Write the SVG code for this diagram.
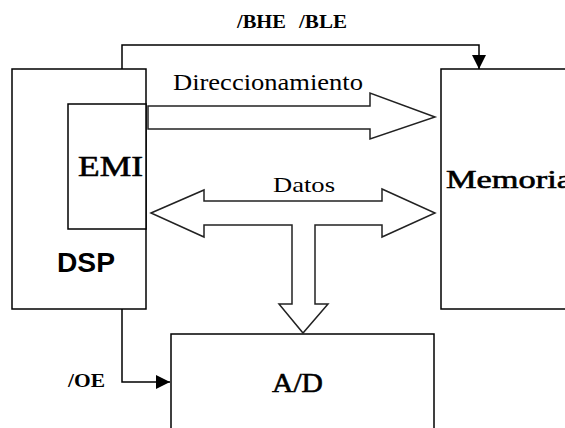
<svg xmlns="http://www.w3.org/2000/svg" width="565" height="428" viewBox="0 0 565 428">
  <style>
    .box { fill: #fff; stroke: #000; stroke-width: 1.5; }
    .bus { fill: #fff; stroke: #222; stroke-width: 1.5; stroke-linejoin: miter; }
    .wire { fill: none; stroke: #000; stroke-width: 1.5; }
    .serif { font-family: "Liberation Serif", "Times New Roman", serif; fill: #000; }
    .heavy { stroke: #000; stroke-width: 0.6; }
    .sans { font-family: "Liberation Sans", Arial, sans-serif; fill: #000; }
  </style>
  <defs>
    <marker id="tip" viewBox="0 0 14 14" refX="14" refY="7" markerWidth="14" markerHeight="14" markerUnits="userSpaceOnUse" orient="auto">
      <path d="M0,0 L14,7 L0,14 Z" fill="#000"/>
    </marker>
  </defs>
  <rect width="565" height="428" fill="#fff"/>

  <g id="dsp">
    <rect class="box" x="12" y="69" width="134" height="240"/>
    <text class="sans" x="57" y="272" font-size="27" font-weight="bold" textLength="58" lengthAdjust="spacingAndGlyphs">DSP</text>
  </g>

  <g id="emi">
    <rect class="box" x="68" y="104" width="78" height="125"/>
    <text class="serif heavy" x="78" y="176" font-size="30" textLength="65" lengthAdjust="spacingAndGlyphs">EMI</text>
  </g>

  <g id="memoria">
    <rect class="box" x="441" y="69" width="140" height="240"/>
    <text class="serif heavy" x="446" y="188" font-size="26" textLength="126" lengthAdjust="spacingAndGlyphs">Memoria</text>
  </g>

  <g id="ad">
    <rect class="box" x="171" y="334" width="263" height="110"/>
    <text class="serif heavy" x="272" y="392" font-size="28" textLength="51" lengthAdjust="spacingAndGlyphs">A/D</text>
  </g>

  <g id="connectors">
    <!-- address bus -->
    <polygon class="bus" points="148,106 370,106 370,93 435,117 370,139 370,129 148,129"/>
    <text class="serif" x="173" y="90" font-size="24" textLength="190" lengthAdjust="spacingAndGlyphs">Direccionamiento</text>

    <!-- data bus with branch to A/D -->
    <polygon class="bus" points="151,213 204,190 204,201 382,201 382,189 435,213 382,237 382,225 315,225 315,304 328,304 303,333 279,304 292,304 292,225 204,225 204,237"/>
    <text class="serif" x="273" y="192" font-size="22" textLength="62" lengthAdjust="spacingAndGlyphs">Datos</text>

    <!-- byte enables -->
    <polyline class="wire" points="122,69 122,45 479,45 479,69" marker-end="url(#tip)"/>
    <text class="serif" y="28" font-size="19" font-weight="bold"><tspan x="237" textLength="49" lengthAdjust="spacingAndGlyphs">/BHE</tspan><tspan x="299" textLength="48" lengthAdjust="spacingAndGlyphs">/BLE</tspan></text>

    <!-- output enable -->
    <polyline class="wire" points="122,309 122,382 170,382" marker-end="url(#tip)"/>
    <text class="serif" x="68" y="387" font-size="18" font-weight="bold" textLength="37" lengthAdjust="spacingAndGlyphs">/OE</text>
  </g>
</svg>
